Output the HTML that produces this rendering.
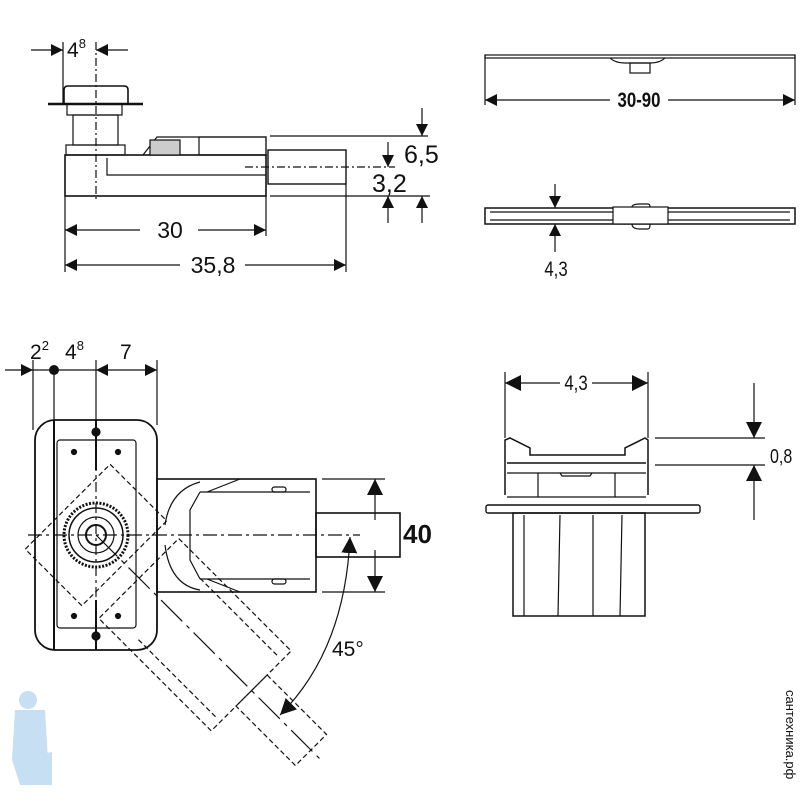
<!DOCTYPE html>
<html><head><meta charset="utf-8"><style>
html,body{margin:0;padding:0;background:#fff;}
svg{display:block;}
text{font-family:"Liberation Sans",sans-serif;fill:#111;}
</style></head><body>
<svg width="801" height="800" viewBox="0 0 801 800" xmlns="http://www.w3.org/2000/svg">
<defs>
<marker id="a" viewBox="0 0 10 10" refX="10" refY="5" markerWidth="12" markerHeight="12" markerUnits="userSpaceOnUse" orient="auto-start-reverse"><path d="M0,0 L10,5 L0,10 z" fill="#111"/></marker>
<marker id="b" viewBox="0 0 10 10" refX="10" refY="5" markerWidth="16" markerHeight="16" markerUnits="userSpaceOnUse" orient="auto-start-reverse"><path d="M0,0 L10,5 L0,10 z" fill="#111"/></marker>
</defs>
<g stroke="#111" fill="none" stroke-width="1.2">
<!-- TOP LEFT -->
<line x1="31" y1="50" x2="63" y2="50" marker-end="url(#a)"/>
<line x1="128" y1="50" x2="96" y2="50" marker-end="url(#a)"/>
<line x1="63" y1="42" x2="63" y2="105"/>
<line x1="96" y1="42" x2="96" y2="202" stroke-dasharray="8,3,2,3"/>
<path d="M64,103 L64,90 Q64,86 68,86 L124,86 Q128,86 128,90 L128,103" stroke-width="1.6"/>
<line x1="48" y1="104" x2="143" y2="104" stroke-width="2.5"/>
<rect x="67" y="104" width="55" height="11"/>
<rect x="73" y="115" width="45" height="30"/>
<rect x="66" y="145" width="59" height="10"/>
<rect x="65" y="155" width="201" height="41" stroke-width="1.6"/>
<path d="M107,158 L107,175 L266,175"/>
<path d="M143,155 L157,137 L266,137 L266,155"/>
<rect x="199" y="137" width="67" height="18"/>
<rect x="150" y="140" width="30" height="15" fill="#ccc"/>
<rect x="268" y="150" width="78" height="34" stroke-width="1.4"/>
<line x1="245" y1="167" x2="395" y2="167" stroke-dasharray="8,3,2,3"/>
<line x1="270" y1="136" x2="428" y2="136"/>
<line x1="270" y1="196" x2="430" y2="196"/>
<line x1="422" y1="108" x2="422" y2="136" marker-end="url(#a)"/>
<line x1="422" y1="223" x2="422" y2="196" marker-end="url(#a)"/>
<line x1="388" y1="142" x2="388" y2="167" marker-end="url(#a)"/>
<line x1="388" y1="223" x2="388" y2="196" marker-end="url(#a)"/>
<line x1="65" y1="196" x2="65" y2="272"/>
<line x1="266" y1="196" x2="266" y2="236"/>
<line x1="346" y1="184" x2="346" y2="272"/>
<line x1="140" y1="230" x2="65" y2="230" marker-end="url(#a)"/>
<line x1="198" y1="230" x2="266" y2="230" marker-end="url(#a)"/>
<line x1="180" y1="265" x2="65" y2="265" marker-end="url(#a)"/>
<line x1="245" y1="265" x2="346" y2="265" marker-end="url(#a)"/>
<!-- TOP RIGHT -->
<rect x="485" y="55" width="310" height="3"/>
<path d="M610,58 Q615,63 625,63 L650,63 Q660,63 665,58"/>
<rect x="630" y="63" width="20" height="10"/>
<line x1="485" y1="55" x2="485" y2="105"/>
<line x1="795" y1="55" x2="795" y2="105"/>
<line x1="610" y1="100" x2="485" y2="100" marker-end="url(#a)"/>
<line x1="668" y1="100" x2="795" y2="100" marker-end="url(#a)"/>
<rect x="485" y="208" width="310" height="16" stroke-width="1.5"/>
<line x1="490" y1="212" x2="790" y2="212"/>
<line x1="490" y1="220" x2="790" y2="220"/>
<rect x="613" y="207" width="55" height="17" fill="#fff"/>
<path d="M632,207 Q632,204 640,204 L648,204 Q650,204 650,207"/>
<path d="M632,224 Q632,229 640,229 L648,229 Q650,229 650,224"/>
<line x1="555" y1="184" x2="555" y2="208" marker-end="url(#a)"/>
<line x1="555" y1="252" x2="555" y2="224" marker-end="url(#a)"/>
<!-- BOTTOM LEFT -->
<line x1="5" y1="370" x2="33" y2="370" marker-end="url(#a)"/>
<line x1="33" y1="370" x2="96" y2="370"/>
<line x1="120" y1="370" x2="96" y2="370" marker-end="url(#a)"/>
<line x1="120" y1="370" x2="157" y2="370" marker-end="url(#a)"/>
<line x1="33" y1="360" x2="33" y2="430"/>
<line x1="54" y1="370" x2="54" y2="420"/>
<line x1="96" y1="360" x2="96" y2="425"/>
<line x1="157" y1="360" x2="157" y2="425"/>
<rect x="35" y="420" width="122" height="230" rx="20" stroke-width="1.8"/>
<line x1="54" y1="420" x2="54" y2="650" stroke-width="2"/>
<rect x="57" y="440" width="79" height="188" rx="3"/>
<line x1="96" y1="420" x2="96" y2="470" stroke-width="2"/>
<line x1="96" y1="600" x2="96" y2="650" stroke-width="2"/>
<circle cx="96" cy="432" r="4" fill="#111"/>
<circle cx="96" cy="636" r="4" fill="#111"/>
<circle cx="74" cy="452" r="2.5" fill="#111"/><circle cx="118" cy="452" r="2.5" fill="#111"/>
<circle cx="74" cy="616" r="2.5" fill="#111"/><circle cx="118" cy="616" r="2.5" fill="#111"/>
<circle cx="96" cy="535" r="32" stroke-width="3" stroke-dasharray="2,1.5"/>
<circle cx="96" cy="535" r="27" stroke-width="1.5"/>
<circle cx="96" cy="535" r="18"/>
<circle cx="96" cy="535" r="10" stroke-width="2"/>
<line x1="28" y1="535" x2="360" y2="535" stroke-dasharray="14,4,3,4"/>
<line x1="96" y1="440" x2="96" y2="628" stroke-dasharray="10,4,3,4"/>
<rect x="157" y="479" width="159" height="113" stroke-width="1.6"/>
<path d="M207,492 L240,479 M207,579 L240,592 M200,492 L310,492 M200,579 L310,579 M200,492 L190,510 L190,560 L200,579"/>
<path d="M165,525 Q170,490 200,482 M165,545 Q170,585 200,590"/>
<rect x="272" y="487" width="14" height="5" rx="2.5"/>
<rect x="272" y="579" width="14" height="5" rx="2.5"/>
<rect x="316" y="513" width="84" height="44" stroke-width="1.6"/>
<line x1="322" y1="479" x2="385" y2="479"/>
<line x1="322" y1="592" x2="385" y2="592"/>
<line x1="375" y1="520" x2="375" y2="479" marker-end="url(#b)"/>
<line x1="375" y1="550" x2="375" y2="592" marker-end="url(#b)"/>
<g stroke-dasharray="5,3" transform="rotate(45 96 535)">
<rect x="157" y="479" width="159" height="113"/>
<rect x="316" y="513" width="84" height="44"/>
<path d="M200,492 L310,492 M200,579 L310,579"/>
<rect x="56" y="475" width="80" height="120"/>
</g>
<line x1="96" y1="535" x2="320" y2="759" transform="" stroke-dasharray="30,6,4,6"/>
<path d="M350,537 Q345,650 280,715" marker-start="url(#b)" marker-end="url(#b)"/>
<!-- BOTTOM RIGHT -->
<line x1="505" y1="372" x2="505" y2="438"/>
<line x1="648" y1="372" x2="648" y2="438"/>
<line x1="560" y1="383" x2="505" y2="383" marker-end="url(#b)"/>
<line x1="592" y1="383" x2="648" y2="383" marker-end="url(#b)"/>
<path d="M505,495 L505,440 L510,438 L530,448 L530,455 L625,455 L625,448 L645,438 L648,440 L648,495" stroke-width="1.5"/>
<line x1="507" y1="463" x2="646" y2="463" stroke-width="1.5"/>
<line x1="507" y1="473" x2="646" y2="473"/>
<path d="M538,473 L538,497 M615,473 L615,497 M560,473 L562,476 L590,476 L592,473"/>
<line x1="507" y1="497" x2="646" y2="497"/>
<rect x="486" y="505" width="214" height="8" rx="2" stroke-width="1.4"/>
<rect x="513" y="513" width="132" height="103" stroke-width="1.5"/>
<path d="M524,515 L524,616 M560,515 L558,616 M593,515 L593,616 M622,515 L620,616"/>
<line x1="655" y1="438" x2="765" y2="438"/>
<line x1="655" y1="465" x2="765" y2="465"/>
<line x1="754" y1="383" x2="754" y2="438" marker-end="url(#b)"/>
<line x1="754" y1="520" x2="754" y2="465" marker-end="url(#b)"/>
</g>
<circle cx="54" cy="370" r="5" fill="#111"/>
<g font-size="21">
<text x="67" y="57">4<tspan font-size="13" dy="-9">8</tspan></text>
<text x="404" y="163" font-size="25">6,5</text>
<text x="372" y="192" font-size="25">3,2</text>
<text x="170" y="238" font-size="23" text-anchor="middle">30</text>
<text x="213" y="273" font-size="23" text-anchor="middle">35,8</text>
<text x="639" y="107" font-size="21" text-anchor="middle" font-weight="bold" transform="translate(639 0) scale(0.8 1) translate(-639 0)">30-90</text>
<text x="556" y="276" font-size="21" text-anchor="middle" transform="translate(556 0) scale(0.8 1) translate(-556 0)">4,3</text>
<text x="30" y="359">2<tspan font-size="13" dy="-9">2</tspan></text>
<text x="65" y="359" dy="0">4<tspan font-size="13" dy="-9">8</tspan></text>
<text x="120" y="359">7</text>
<text x="403" y="543" font-size="26" font-weight="bold">40</text>
<text x="332" y="656" font-size="21" fill="#333">45°</text>
<text x="576" y="390" font-size="21" text-anchor="middle" transform="translate(576 0) scale(0.8 1) translate(-576 0)">4,3</text>
<text x="770" y="463" font-size="20" transform="translate(770 0) scale(0.8 1) translate(-770 0)">0,8</text>
</g>
<g fill="#b8d8f0" opacity="0.8">
<circle cx="28" cy="700" r="9"/>
<path d="M15,710 L45,710 L48,760 L40,785 L20,785 L12,760 Z"/>
<path d="M35,755 L52,752 L52,785 L38,785 Z"/>
</g>
<text x="0" y="0" font-size="13" fill="#bbb" transform="translate(786 690) rotate(90)">сантехника.рф</text>
</svg>
</body></html>
